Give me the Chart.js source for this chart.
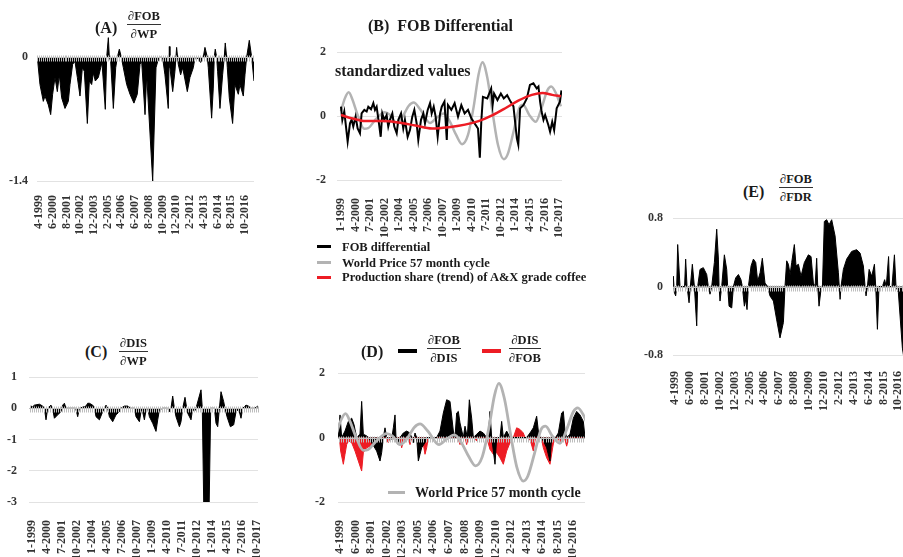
<!DOCTYPE html>
<html>
<head>
<meta charset="utf-8">
<script src="https://cdn.jsdelivr.net/npm/chart.js@4.4.1/dist/chart.umd.min.js"></script>
<style>
  html, body { margin: 0; padding: 0; width: 903px; height: 557px; overflow: hidden; background: #fff; }
  canvas { position: absolute; }
  .t { position: absolute; font-family: "Liberation Serif", serif; font-weight: bold; color: #1a1a1a; white-space: nowrap; }
  .frac { position: absolute; font-family: "Liberation Serif", serif; font-weight: bold; font-size: 12.5px; text-align: center; color: #1a1a1a; }
  .frac .num { line-height: 16px; border-bottom: 1.3px solid #333; padding: 0 1px; }
  .frac .den { line-height: 16px; padding-top: 1px; }
  .sw { position: absolute; height: 3px; }
</style>
</head>
<body>
<canvas id="cA"></canvas>
<canvas id="cB"></canvas>
<canvas id="cC"></canvas>
<canvas id="cD"></canvas>
<canvas id="cE"></canvas>

<!-- titles -->
<div class="t" style="left:95px;top:18px;font-size:16px;line-height:20px">(A)</div>
<div class="frac" style="left:127px;top:8px"><div class="num">∂FOB</div><div class="den">∂WP</div></div>

<div class="t" style="left:368px;top:16px;font-size:16px;line-height:20px">(B)&nbsp; FOB Differential</div>
<div class="t" style="left:335px;top:61px;font-size:16px;line-height:20px">standardized values</div>
<div class="sw" style="left:317px;top:245px;width:14px;background:#000"></div>
<div class="t" style="left:342px;top:239px;font-size:12.5px;line-height:16px">FOB differential</div>
<div class="sw" style="left:317px;top:261px;width:14px;background:#b3b3b3"></div>
<div class="t" style="left:342px;top:255px;font-size:12.5px;line-height:16px">World Price 57 month cycle</div>
<div class="sw" style="left:317px;top:276px;width:14px;background:#ed1c24"></div>
<div class="t" style="left:342px;top:269px;font-size:12.5px;line-height:16px">Production share (trend) of A&amp;X grade coffee</div>

<div class="t" style="left:85px;top:342px;font-size:16px;line-height:20px">(C)</div>
<div class="frac" style="left:119px;top:335px"><div class="num">∂DIS</div><div class="den">∂WP</div></div>

<div class="t" style="left:361px;top:342px;font-size:16px;line-height:20px">(D)</div>
<div class="sw" style="left:398px;top:349px;width:19px;height:4px;background:#000"></div>
<div class="frac" style="left:427px;top:332px"><div class="num">∂FOB</div><div class="den">∂DIS</div></div>
<div class="sw" style="left:482px;top:349px;width:19px;height:4px;background:#ed1c24"></div>
<div class="frac" style="left:509px;top:332px"><div class="num">∂DIS</div><div class="den">∂FOB</div></div>
<div class="sw" style="left:388px;top:491px;width:17px;background:#b3b3b3"></div>
<div class="t" style="left:415px;top:484px;font-size:14px;line-height:18px">World Price 57 month cycle</div>

<div class="t" style="left:743px;top:182px;font-size:16px;line-height:20px">(E)</div>
<div class="frac" style="left:779px;top:171px"><div class="num">∂FOB</div><div class="den">∂FDR</div></div>

<script>
// tick labels (month-year)
const tickLabelsA = ['4-1999','6-2000','8-2001','10-2002','12-2003','2-2005','4-2006','6-2007','8-2008','10-2009','12-2010','2-2012','4-2013','6-2014','8-2015','10-2016'];
const tickLabelsB = ['1-1999','4-2000','7-2001','10-2002','1-2004','4-2005','7-2006','10-2007','1-2009','4-2010','7-2011','10-2012','1-2014','4-2015','7-2016','10-2017'];
const tickLabelsC = tickLabelsB;
const tickLabelsD = tickLabelsA;
const tickLabelsE = tickLabelsA;

const yTicksA = [0, -1.4];
const yTicksB = [2, 0, -2];
const yTicksC = [1, 0, -1, -2, -3];
const yTicksD = [2, 0, -2];
const yTicksE = [0.8, 0, -0.8];

// series: [months since Jan 1999, value]
const ptsA = [[1.3,0],[4,-0.31],[7.4,-0.5],[9.1,-0.44],[12.5,-0.54],[14.9,-0.65],[16.9,-0.42],[19.3,-0.23],[21.7,-0.39],[23.7,-0.2],
  [26.1,-0.46],[29.5,-0.58],[32.9,-0.5],[34.6,-0.31],[37.3,-0.08],[39.7,-0.05],[42.1,-0.23],[44.8,-0.44],[47.2,-0.12],[49.2,-0.16],
  [52.3,-0.75],[54.3,-0.27],[56.7,-0.31],[58.4,-0.18],[60.4,-0.27],[63.5,-0.23],[65.9,-0.12],[67.2,-0.06],[70.6,-0.59],[72,0],
  [73.7,0.22],[74.7,0],[76.1,-0.05],[78.8,-0.58],[81.2,-0.12],[82.9,0],[84.9,0.09],[86.9,0],[89,-0.12],[92.4,-0.31],
  [95.8,-0.42],[99.8,-0.52],[103.2,-0.42],[106,-0.08],[107.7,-0.05],[111.1,-0.65],[112.8,-0.2],[118.9,-1.4],[122.3,-0.12],[124,-0.05],
  [126.3,0],[129.1,-0.01],[131.4,-0.2],[134.8,-0.58],[135.9,0.12],[136.5,-0.12],[139.3,-0.39],[141.6,-0.16],[143.3,0.11],[145,-0.08],
  [147.4,-0.2],[149.5,-0.12],[154.2,-0.39],[156.9,-0.23],[160.3,-0.12],[162,-0.01],[163.7,0],[167.8,-0.06],[170.5,0],[172.2,0.11],
  [174.6,0],[175.6,-0.12],[179,-0.69],[180.7,-0.35],[181.7,0],[182.7,0.09],[184.1,0],[185.1,-0.16],[187.5,-0.58],[190.2,-0.2],
  [191.9,0],[192.9,0.16],[194.3,0],[195,-0.12],[197,-0.46],[200.4,-0.75],[202.8,-0.31],[206.2,-0.42],[207.9,-0.31],[211.3,-0.44],
  [213,-0.2],[214.7,0],[217.4,0.19],[219.8,0],[222.2,-0.27]];

const ptsFob = [[0,0.29],[1.4,-0.12],[3.4,0.14],[4.8,-0.23],[6.9,-0.8],[9.3,-0.23],[11,-0.12],[12.7,-0.33],[15.1,-0.02],[17.2,-0.39],
  [19.6,-0.54],[21.3,0.08],[24.1,0.19],[26.5,0.14],[28.2,0.29],[31,0.21],[33.4,0.4],[35.1,0.19],[36.8,0.29],[39.2,-0.23],
  [41,-0.65],[42.6,0.08],[44.7,-0.12],[47.1,0.03],[48.8,-0.33],[50.5,-0.12],[53,0.08],[55,-0.33],[57.5,-0.54],[59.2,-0.12],
  [62,0.08],[64.3,-0.39],[66,-0.12],[68.8,-0.65],[71.2,-0.44],[73.6,-0.02],[75.7,0.19],[78.1,-0.23],[79.8,-0.75],[82.6,-0.12],
  [85,0.08],[86.7,-0.23],[89.5,0.19],[91.9,0.4],[93.6,0.08],[95.7,0.29],[97.7,-0.02],[99.8,-0.65],[102.3,0.08],[104,0.29],
  [106.8,0.45],[109.2,-0.75],[110.4,0.34],[113.9,0.19],[117.3,0.4],[120.8,-0.02],[124.2,0.34],[127.6,0.08],[131.1,0.19],[134.5,-0.07],
  [137.9,-0.23],[141.4,-0.39],[143.3,-1.3],[144.8,-0.18],[146.5,0.6],[151,0.55],[155,0.86],[156.5,0.34],[158,0.7],[161.5,0.5],
  [165,0.7],[168,0.55],[171.5,0.65],[175,0.45],[178,0.3],[181.5,-0.7],[183,-0.9],[184.9,0.24],[188.3,0.34],[191.8,0.55],
  [195,0.97],[198.6,1.02],[202,0.86],[203.8,0.92],[205.5,0.45],[207,0.14],[209,-0.12],[210.7,0.03],[214,-0.28],[215.8,-0.49],
  [218,-0.18],[220,-0.44],[222.6,0.24],[226,0.45],[227.5,0.8]];

const ptsWorldPrice = [[0,0.15],[4,0.55],[8,0.74],[12,0.5],[17,0.05],[24,-0.4],[28,-0.38],[36,-0.1],[45,0.12],[50,0.05],
  [57,-0.22],[63,-0.05],[70,0.32],[75,0.42],[82,0.2],[92,-0.22],[99,-0.05],[106,0.08],[112,-0.15],[119,-0.6],
  [125,-0.88],[131,-0.6],[137,0.3],[142,1.3],[146,1.68],[151,1.2],[157,0],[162,-0.9],[168,-1.35],[172,-1.2],
  [178,-0.5],[184,0.25],[188,0.35],[194,0.05],[201,-0.18],[207,0.25],[213,0.8],[217,0.92],[222,0.7],[227,0.3]];

const ptsTrend = [[0,0.03],[12,-0.08],[25,-0.16],[42,-0.16],[59,-0.2],[77,-0.3],[94,-0.39],[111,-0.35],[128,-0.27],
  [142,-0.16],[156,0.02],[170,0.25],[183,0.48],[197,0.66],[208,0.72],[218,0.66],[227,0.62]];

const ptsC = [[-1,0.07],[1,0.05],[2.7,0.1],[7.7,0.13],[11,0.07],[12.7,0],[14.3,-0.37],[16,0],[19.3,0.1],[21,-0.03],
  [22.7,-0.32],[26,-0.21],[29.3,-0.11],[31,0.1],[32.7,0.16],[34.3,0],[44,0],[46,-0.27],[47.7,0],[54.3,0.07],
  [56,0.16],[57.7,0.16],[61,0.1],[62.7,0.03],[64.3,-0.27],[67.7,-0.37],[71,-0.11],[74.3,0.1],[76,0],[77.7,-0.27],
  [81,-0.43],[84.3,-0.21],[87.7,-0.11],[89.3,0],[92.7,0.07],[96,0.07],[99.3,0],[102.7,0],[104.3,-0.27],[107.7,-0.43],
  [109.3,-0.11],[110.5,-0.05],[112.7,-0.37],[114.3,-0.05],[116,0],[117.7,-0.27],[121,-0.48],[124.3,-0.74],[126,-0.37],[127.7,-0.05],
  [131,0],[136,0],[137.7,-0.11],[139.3,0],[141,0.39],[142.7,0],[144.3,-0.27],[147.7,-0.59],[149.3,-0.43],[151,0],
  [153.3,0.35],[155,0],[156,-0.16],[159.3,-0.37],[161,0],[162.7,-0.11],[164.3,0],[169.3,0.59],[170.6,0],[172,-3],
  [177.5,-3],[179,0],[182.7,0],[184.3,-0.48],[186,-0.59],[187.7,0],[189.3,0.53],[192,0.21],[193.3,0],[195.3,-0.27],
  [198.7,-0.59],[202,-0.53],[204.3,-0.11],[207,-0.03],[209.3,-0.32],[211,0],[214.3,0.1],[216.7,0.07],[219.3,0],[223,0],[226,0.07]];

const ptsFobDis = [[1.5,0],[3,0.7],[4.5,0],[7.5,0.2],[10.5,0.5],[13.5,0.6],[15.6,0.4],[18,0],[21,0.1],[22.5,1.12],
  [24,0.1],[27,0.05],[28.5,0],[31.5,-0.16],[36,-0.42],[39,-0.73],[40.5,-0.47],[42,0],[43.5,0.3],[45,0],
  [49.5,-0.05],[51,0.3],[52.5,0.7],[53.4,0],[55.5,-0.22],[57,0],[60,0.14],[63,0.2],[66,0.14],[67.5,0],
  [69,-0.16],[70.5,0.14],[72,0],[73.5,-0.73],[75,-0.52],[76.5,-0.32],[79.5,-0.16],[81,0],[90,0],[93,0.2],
  [96,0.76],[99,1.17],[102,1.12],[105,0.2],[106.5,0],[108,0.76],[109.5,0.81],[111,0.45],[114,0],[115.5,0.35],
  [117.6,0],[119.4,1.17],[121.5,0.6],[123,0],[126,0.1],[129,0.2],[132,0.14],[135,0],[136.5,0.05],[138,0.81],
  [139.5,0],[142.5,-0.83],[144,0],[147,0],[148.5,0.5],[150,0],[153,0.2],[156,0],[171,0],[174,0.14],
  [177,0.3],[180,0.66],[181.5,0.2],[183,0],[186,-0.1],[189,-0.32],[192,-0.73],[193.5,0],[197,0],[199.5,0.14],
  [202.5,0.76],[204,0.81],[205.5,0.2],[207,0],[210,0.1],[213,0.6],[216,0.81],[219,0.7],[222,0.5],[223.5,0]];

const ptsDisFob = [[2.4,0],[3.6,-0.42],[6,-0.83],[7.5,-0.52],[9,-0.22],[10.5,-0.1],[13.5,-0.16],[16.5,-0.42],[19.5,-0.73],[22.5,-1.04],
  [24,-0.47],[27,-0.32],[30,-0.27],[33,-0.16],[36,-0.06],[39,0],[44,0],[46.5,-0.16],[48,0],[51,0],
  [52.5,-0.11],[54,0],[57,0],[58.5,-0.32],[60,-0.11],[62,0],[64.5,0],[66,-0.22],[67.5,0],[77,0],
  [79.5,-0.52],[81,-0.32],[82.5,0],[94,0],[97.5,0.14],[100,0],[109,0],[111,-0.22],[112.5,0],[115.5,0],
  [117,-0.22],[118.5,0],[124,0],[126,-0.11],[127.5,0],[135,0],[138,-0.37],[141,-0.52],[144,-0.47],[147,-0.63],
  [150,-0.83],[153,-0.42],[156,-0.16],[159,0],[162,0.3],[165,0.25],[168,0.14],[169.5,0],[174,-0.06],[177,-0.42],
  [179,0],[184,0],[186,-0.32],[189,-0.63],[192,-0.83],[194.4,-0.32],[196,0],[199,0],[201,-0.16],[203,0],
  [205,0],[207,-0.27],[209,0],[223,0]];

const ptsE = [[0.5,0],[1.4,0.12],[2.4,-0.07],[3.6,-0.11],[4.6,0],[5.5,0.49],[7.7,0],[12,0],[13,0.32],[14.3,0],
  [16.2,-0.19],[17.4,0],[19.3,0.26],[21.2,0],[23.4,-0.46],[24.3,0],[26.5,0.2],[29.6,0.22],[32.8,0.14],[34.3,0],
  [35.9,-0.09],[37.5,0],[40,0.28],[42.2,0.67],[43.8,0.32],[44.4,0],[45.3,-0.17],[46.9,0],[49.4,0.37],[51.6,0.2],
  [52.5,0],[53.8,-0.23],[56.3,-0.25],[57.9,0],[60,0.1],[62.6,0.14],[65,0.08],[66.3,0],[68.2,-0.23],[69.5,-0.15],
  [70.7,-0.27],[72,0],[74.5,0.24],[76.7,0.32],[78.9,0.28],[80.7,0.06],[83,0.16],[85.1,0.33],[87.6,0.04],[90.1,0],
  [92.3,-0.11],[95.5,-0.17],[98.6,-0.39],[101.7,-0.6],[104.9,-0.42],[106.4,0],[108,0.3],[109.6,0.26],[111.2,0.14],[112.7,0.28],
  [115.2,0.49],[116.8,0.24],[119,0.26],[121.5,0.12],[124.6,0.28],[128.4,0.37],[130.9,0.35],[133.1,0.04],[134.7,0],[136.2,0.33],
  [137.2,0],[138.4,-0.23],[140.3,-0.03],[141.6,0],[143.4,0.76],[145.6,0.78],[147.8,0.72],[150.3,0.78],[153.5,0.59],[156.6,0.16],
  [158.2,-0.15],[159.1,0],[161.3,0.2],[164.4,0.32],[169.1,0.41],[173.8,0.43],[177,0.39],[180.1,0.24],[181.7,0],[182.6,-0.11],
  [183.9,0],[185.5,0.2],[188,0.12],[190.5,0.26],[191.7,0],[193.3,-0.5],[194.8,0],[198,0],[200.1,0.08],[201.6,0],
  [203.8,0.35],[204.7,0],[207,0],[209.3,0.37],[210.8,0],[213,-0.07],[216.8,-0.72],[219,-0.9]];

Chart.defaults.font.family = '"Liberation Serif", "Times New Roman", serif';
Chart.defaults.font.weight = 'bold';
Chart.defaults.font.size = 12;

function monthOf(label) {
  const [mo, yr] = label.split('-').map(Number);
  return (yr - 1999) * 12 + mo - 1;
}
const toXY = pts => pts.map(([x, y]) => ({ x, y }));

// minor tick marks along the zero line
const zeroTicks = {
  id: 'zeroTicks',
  afterDatasetsDraw(chart, args, opts) {
    if (!opts.on) return;
    const { ctx, chartArea: a, scales: { x, y } } = chart;
    const y0 = Math.round(y.getPixelForValue(0)) + 0.5;
    ctx.save();
    ctx.strokeStyle = '#bdbdbd';
    ctx.lineWidth = 1;
    ctx.beginPath();
    ctx.moveTo(a.left, y0);
    ctx.lineTo(a.right, y0);
    for (let m = Math.ceil(x.min); m <= x.max; m += 2) {
      const px = Math.round(x.getPixelForValue(m)) + 0.5;
      ctx.moveTo(px, y0 - 2);
      ctx.lineTo(px, y0 + 4);
    }
    ctx.stroke();
    ctx.restore();
  }
};

function area(pts, color) {
  return { data: toXY(pts), fill: 'origin', backgroundColor: color, borderColor: color, borderWidth: 1, tension: 0 };
}
function curve(pts, color, width, smooth) {
  return { data: toXY(pts), fill: false, borderColor: color, borderWidth: width,
           cubicInterpolationMode: smooth ? 'monotone' : 'default', tension: 0 };
}

function makePanel(id, p) {
  const padTop = 10, padRight = 6, xH = 62;
  const cv = document.getElementById(id);
  const left = p.box[0] - p.yW, top = p.box[1] - padTop;
  cv.width = p.box[2] + padRight - left;
  cv.height = p.box[3] + xH - top;
  cv.style.left = left + 'px';
  cv.style.top = top + 'px';
  return new Chart(cv, {
    type: 'line',
    data: { datasets: p.datasets },
    options: {
      responsive: false,
      animation: false,
      devicePixelRatio: 1,
      layout: { padding: { top: padTop, right: padRight, left: 0, bottom: 0 } },
      elements: { point: { radius: 0 } },
      plugins: { legend: { display: false }, tooltip: { enabled: false }, zeroTicks: { on: p.zeroTicks } },
      scales: {
        x: {
          type: 'linear', min: p.xMin, max: p.xMax,
          grid: { display: false }, border: { display: false },
          afterBuildTicks: s => { s.ticks = p.xLabels.map(l => ({ value: monthOf(l) })); },
          afterFit: s => { s.height = xH; s.paddingLeft = 0; s.paddingRight = 0; },
          ticks: { autoSkip: false, maxRotation: 90, minRotation: 90, padding: p.xPad, color: '#333',
                   callback: (v, i) => p.xLabels[i] }
        },
        y: {
          min: p.yMin, max: p.yMax,
          border: { display: false },
          grid: { drawTicks: false, color: c => (p.zeroTicks && c.tick && c.tick.value === 0) ? 'rgba(0,0,0,0)' : '#e2e2e2' },
          afterBuildTicks: s => { s.ticks = p.yTicks.map(v => ({ value: v })); },
          afterFit: s => { s.width = p.yW; s.paddingTop = 0; s.paddingBottom = 0; },
          ticks: { padding: p.yPad, color: '#333', callback: v => String(v) }
        }
      }
    },
    plugins: [zeroTicks]
  });
}

makePanel('cA', {
  box: [37, 35, 254, 181], yW: 37, yPad: 9, xPad: 6,
  xMin: 0.96, xMax: 222.2, yMin: -1.4, yMax: 0.25,
  xLabels: tickLabelsA, yTicks: yTicksA, zeroTicks: true,
  datasets: [area(ptsA, '#000')]
});

const dsTrend = curve(ptsTrend, '#ed1c24', 2.5, true); dsTrend.order = 0;
const dsFob = curve(ptsFob, '#000', 2, false); dsFob.order = 1;
const dsWpB = curve(ptsWorldPrice, '#b3b3b3', 2.5, true); dsWpB.order = 2;
makePanel('cB', {
  box: [337, 52, 562, 180], yW: 40, yPad: 11, xPad: 10,
  xMin: -4.1, xMax: 228.1, yMin: -2, yMax: 2,
  xLabels: tickLabelsB, yTicks: yTicksB, zeroTicks: false,
  datasets: [dsTrend, dsFob, dsWpB]
});

makePanel('cC', {
  box: [29, 377, 258, 502], yW: 29, yPad: 12, xPad: 10,
  xMin: -2.7, xMax: 226.3, yMin: -3, yMax: 1,
  xLabels: tickLabelsC, yTicks: yTicksC, zeroTicks: true,
  datasets: [area(ptsC, '#000')]
});

const dsWpD = curve(ptsWorldPrice, '#b3b3b3', 2.8, true); dsWpD.order = 0;
const dsFobDis = area(ptsFobDis, '#000'); dsFobDis.order = 1;
const dsDisFob = area(ptsDisFob, '#ed1c24'); dsDisFob.order = 2;
makePanel('cD', {
  box: [338, 373, 585, 502], yW: 40, yPad: 13, xPad: 10,
  xMin: 1.2, xMax: 223.5, yMin: -2, yMax: 2,
  xLabels: tickLabelsD, yTicks: yTicksD, zeroTicks: true,
  datasets: [dsWpD, dsFobDis, dsDisFob]
});

makePanel('cE', {
  box: [673, 218, 909, 355], yW: 45, yPad: 10, xPad: 8,
  xMin: 1.1, xMax: 223, yMin: -0.8, yMax: 0.8,
  xLabels: tickLabelsE, yTicks: yTicksE, zeroTicks: true,
  datasets: [area(ptsE, '#000')]
});
</script>
</body>
</html>
